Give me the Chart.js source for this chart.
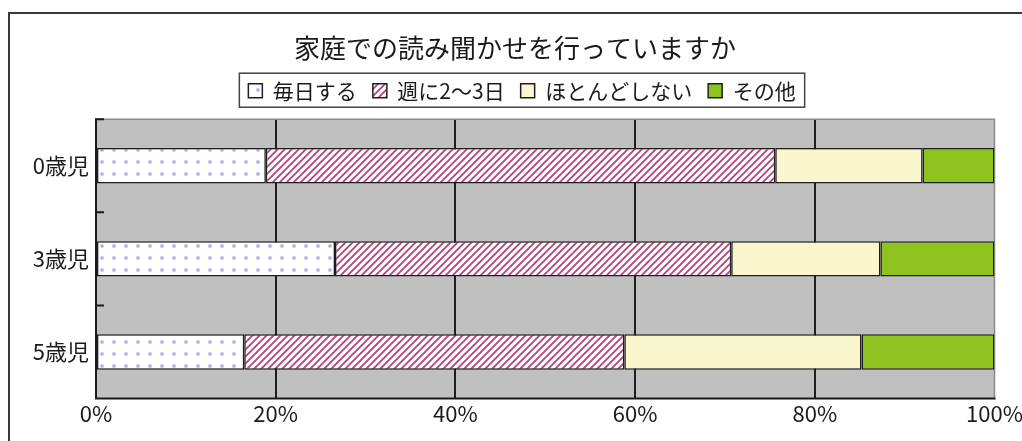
<!DOCTYPE html>
<html>

<head>
  <meta charset="utf-8">
  <title>家庭での読み聞かせ</title>
  <script src="https://cdn.jsdelivr.net/npm/chart.js"></script>
  <style>
    body {
      margin: 0;
      width: 1022px;
      height: 441px;
      overflow: hidden;
      background: #fff;
      font-family: "Noto Sans CJK JP", sans-serif;
    }

    #frame {
      position: absolute;
      left: 8px;
      top: 12px;
      width: 1100px;
      height: 500px;
      border: 2px solid #3a3a3a;
    }

    #chartContainer {
      position: absolute;
      left: 0;
      top: 0;
      width: 1022px;
      height: 441px;
    }
  </style>
</head>

<body>
  <div id="frame"></div>
  <div id="chartContainer">
    <canvas id="myChart"></canvas>
  </div>

  <script>
    const categories = ['0歳児', '3歳児', '5歳児'];
    const seriesNames = ['毎日する', '週に2～3日', 'ほとんどしない', 'その他'];
    const daily = [18.9, 26.6, 16.5];
    const weekly = [56.7, 44.1, 42.3];
    const rarely = [16.4, 16.6, 26.4];
    const other = [8.0, 12.7, 14.8];
    const xTicks = [0, 20, 40, 60, 80, 100];

    const FONT = '"Noto Sans CJK JP", sans-serif';

    function makeTile(w, h, paint) {
      const c = document.createElement('canvas');
      c.width = w;
      c.height = h;
      const g = c.getContext('2d');
      g.fillStyle = '#fff';
      g.fillRect(0, 0, w, h);
      paint(g);
      return document.createElement('canvas').getContext('2d').createPattern(c, 'repeat');
    }

    // dotted fill
    const dots = makeTile(12, 12, g => {
      g.fillStyle = '#a4a4ea';
      g.fillRect(4.5, 4.5, 3, 3);
    });

    // diagonal hatch
    const hatch = makeTile(7, 7, g => {
      g.strokeStyle = '#b64479';
      g.lineWidth = 1.8;
      g.beginPath();
      g.moveTo(-1, 8); g.lineTo(8, -1);
      g.moveTo(-1, 1); g.lineTo(1, -1);
      g.moveTo(6, 8); g.lineTo(8, 6);
      g.stroke();
    });

    const plotDecor = {
      id: 'plotDecor',
      afterLayout(chart) {
        // nudge the legend a little to the right, like the original
        const lg = chart.legend, dx = 7;
        lg.left += dx;
        lg.right += dx;
        (lg.legendHitBoxes || []).forEach(b => { b.left += dx; });
      },
      beforeDraw(chart) {
        const a = chart.chartArea, ctx = chart.ctx;
        ctx.save();
        ctx.fillStyle = '#c0c0c0';
        ctx.fillRect(a.left, a.top, a.right - a.left, a.bottom - a.top);
        ctx.restore();
      },
      beforeDatasetsDraw(chart) {
        const a = chart.chartArea, ctx = chart.ctx;
        const y = chart.scales.y;
        ctx.save();
        ctx.lineCap = 'square';
        ctx.strokeStyle = '#8a8a8a';
        ctx.lineWidth = 1.5;
        ctx.beginPath();
        ctx.moveTo(a.left, a.top); ctx.lineTo(a.right, a.top);
        ctx.moveTo(a.right, a.top); ctx.lineTo(a.right, a.bottom);
        ctx.stroke();
        ctx.strokeStyle = '#1a1a1a';
        ctx.lineWidth = 2;
        ctx.beginPath();
        ctx.moveTo(a.left, a.top); ctx.lineTo(a.left, a.bottom);
        ctx.lineTo(a.right, a.bottom);
        // small inward ticks between categories
        for (let i = 0; i < categories.length - 1; i++) {
          const py = (y.getPixelForTick(i) + y.getPixelForTick(i + 1)) / 2;
          ctx.moveTo(a.left, py); ctx.lineTo(a.left + 7, py);
        }
        ctx.moveTo(a.left, a.top); ctx.lineTo(a.left + 7, a.top);
        ctx.stroke();
        ctx.restore();
      },
      afterDraw(chart) {
        const boxes = chart.legend.legendHitBoxes;
        if (!boxes || !boxes.length) return;
        const left = Math.min(...boxes.map(b => b.left)) - 9;
        const right = Math.max(...boxes.map(b => b.left + b.width)) + 9;
        const top = boxes[0].top - 7;
        const bottom = boxes[0].top + boxes[0].height + 6;
        const ctx = chart.ctx;
        ctx.save();
        ctx.strokeStyle = '#444';
        ctx.lineWidth = 1.5;
        ctx.strokeRect(left, top, right - left, bottom - top);
        ctx.restore();
      }
    };

    const seriesData = [daily, weekly, rarely, other];
    const fills = [dots, hatch, '#faf6cd', '#8ec21f'];

    const ctx = document.getElementById('myChart').getContext('2d');
    new Chart(ctx, {
      type: 'bar',
      data: {
        labels: categories,
        datasets: seriesNames.map((name, i) => ({
          label: name,
          data: seriesData[i],
          backgroundColor: fills[i],
          borderColor: '#1e1e1e',
          borderWidth: 1.5,
          borderSkipped: false,
          barPercentage: 0.38,
          categoryPercentage: 1,
          xAxisID: 'x',
          yAxisID: 'y'
        }))
      },
      options: {
        indexAxis: 'y',
        responsive: true,
        maintainAspectRatio: false,
        animation: false,
        layout: {
          padding: { left: 18, right: 10, top: 0, bottom: 12 }
        },
        scales: {
          x: {
            stacked: true,
            position: 'bottom',
            min: 0,
            max: 100,
            afterBuildTicks: s => { s.ticks = xTicks.map(v => ({ value: v })); },
            afterFit: s => { s.paddingRight = 27.5; s.paddingLeft = 0; },
            ticks: {
              padding: 2,
              color: '#1a1a1a',
              font: { family: FONT, size: 22 },
              callback: v => v + '%'
            },
            grid: {
              drawTicks: false,
              lineWidth: 2,
              color: c => (c.tick && (c.tick.value === 0 || c.tick.value === 100)) ? 'rgba(0,0,0,0)' : '#1e1e1e'
            },
            border: { display: false }
          },
          top: {
            axis: 'x',
            type: 'linear',
            position: 'top',
            display: true,
            ticks: { display: false },
            grid: { display: false, drawTicks: false },
            border: { display: false },
            afterFit: s => { s.height = 8; }
          },
          y: {
            stacked: true,
            afterFit: s => { s.width = 78; },
            ticks: {
              padding: 7,
              color: '#1a1a1a',
              font: { family: FONT, size: 22 }
            },
            grid: { display: false, drawTicks: false },
            border: { display: false }
          }
        },
        plugins: {
          title: {
            display: true,
            text: '家庭での読み聞かせを行っていますか',
            color: '#1a1a1a',
            font: { family: FONT, size: 26, weight: 'normal' },
            padding: { top: 33, bottom: 0 }
          },
          legend: {
            display: true,
            position: 'top',
            labels: {
              color: '#1a1a1a',
              font: { family: FONT, size: 21 },
              boxWidth: 14,
              boxHeight: 14,
              padding: 16
            }
          },
          tooltip: { enabled: false }
        }
      },
      plugins: [plotDecor]
    });
  </script>
</body>

</html>
